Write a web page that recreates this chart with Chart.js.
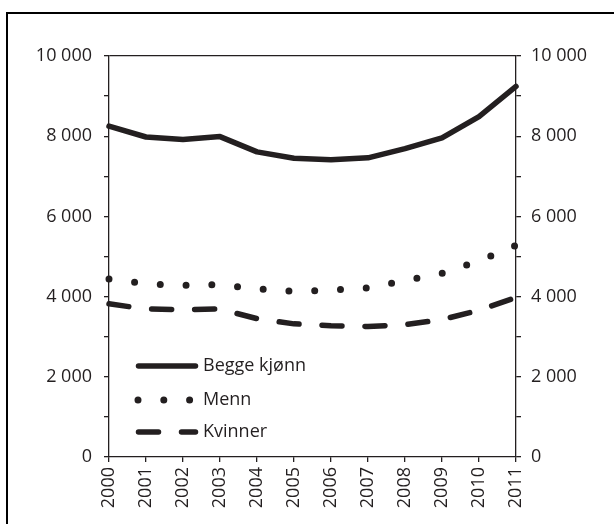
<!DOCTYPE html>
<html>
<head>
<meta charset="utf-8">
<script src="https://cdn.jsdelivr.net/npm/chart.js@4"></script>
<style>
    body { margin: 0; background: #fff; }
    #wrap { width: 614px; height: 524px; }
</style>
</head>
<body>
<div id="wrap"><canvas id="chart" width="614" height="524"></canvas></div>
<script>
// Data
var years = ['2000', '2001', '2002', '2003', '2004', '2005', '2006', '2007', '2008', '2009', '2010', '2011'];
var beggeKjonn = [8250, 7980, 7920, 7990, 7610, 7450, 7410, 7460, 7690, 7960, 8490, 9240];
var menn = [4440, 4320, 4280, 4300, 4190, 4135, 4160, 4220, 4400, 4580, 4890, 5280];
var kvinner = [3820, 3690, 3675, 3690, 3450, 3320, 3275, 3255, 3300, 3425, 3660, 3980];
var seriesNames = ['Begge kjønn', 'Menn', 'Kvinner'];
var yMin = 0, yMax = 10000, yStep = 1000, yLabelStep = 2000;

var ink = '#231f20';
var font = { family: '"Open Sans", "Noto Sans", sans-serif', size: 18 };

// Function to format axis numbers with space as thousands separator
function fmt(v) {
    if (v % yLabelStep !== 0) {
        return '';
    }
    return String(v).replace(/\B(?=(\d{3})+(?!\d))/g, ' ');
}

// Outer frame (only top and left edges are visible in the picture)
var framePlugin = {
    id: 'frame',
    beforeDraw: function (chart) {
        var ctx = chart.ctx;
        ctx.save();
        ctx.strokeStyle = '#000';
        ctx.lineWidth = 2;
        ctx.beginPath();
        ctx.moveTo(7, chart.height + 2);
        ctx.lineTo(7, 13);
        ctx.lineTo(chart.width + 2, 13);
        ctx.stroke();
        ctx.restore();
    }
};

// Legend drawn inside the plot, using each dataset's own line style
var legendPlugin = {
    id: 'innerLegend',
    afterDatasetsDraw: function (chart) {
        var ctx = chart.ctx;
        var rows = [366, 400, 432];
        ctx.save();
        chart.data.datasets.forEach(function (ds, i) {
            var y = rows[i];
            ctx.beginPath();
            ctx.strokeStyle = ds.borderColor;
            ctx.lineWidth = ds.borderWidth;
            ctx.lineCap = ds.borderCapStyle;
            ctx.setLineDash(ds.borderDash || []);
            if (i === 1) {
                ctx.moveTo(138, y);
                ctx.lineTo(190, y);
            } else {
                ctx.moveTo(138.5, y);
                ctx.lineTo(195.5, y);
            }
            ctx.stroke();
            ctx.setLineDash([]);
            ctx.fillStyle = ink;
            ctx.font = font.size + 'px ' + font.family;
            ctx.textBaseline = 'middle';
            ctx.fillText(ds.label, 203, y);
        });
        ctx.restore();
    }
};

function CreateDataSet(label, data, dash, width) {
    return {
        label: label,
        data: data,
        borderColor: ink,
        borderWidth: width,
        borderDash: dash,
        borderCapStyle: 'round',
        borderJoinStyle: 'round',
        pointRadius: 0,
        tension: 0,
        fill: false,
        yAxisID: 'y'
    };
}

new Chart(document.getElementById('chart'), {
    type: 'line',
    data: {
        labels: years,
        datasets: [
            CreateDataSet(seriesNames[0], beggeKjonn, [], 5.5),
            CreateDataSet(seriesNames[1], menn, [0, 25.8], 7),
            CreateDataSet(seriesNames[2], kvinner, [20, 23], 5.5)
        ]
    },
    options: {
        responsive: false,
        animation: false,
        clip: false,
        layout: { padding: { top: 56, left: 0, right: 0, bottom: 0 } },
        plugins: {
            legend: { display: false },
            tooltip: { enabled: false }
        },
        scales: {
            x: {
                afterFit: function (s) { s.height = 67; },
                grid: { drawOnChartArea: false, tickLength: 5, tickColor: ink, lineWidth: 1.3 },
                border: { color: ink, width: 1.3 },
                ticks: { color: ink, font: font, minRotation: 90, maxRotation: 90, padding: 5, autoSkip: false }
            },
            y: {
                position: 'left',
                min: yMin,
                max: yMax,
                afterFit: function (s) { s.width = 109; },
                grid: {
                    color: function (c) { return c.tick && c.tick.value === yMax ? ink : 'rgba(0,0,0,0)'; },
                    tickColor: ink,
                    tickLength: 5,
                    lineWidth: 1.3
                },
                border: { color: ink, width: 1.3 },
                ticks: { stepSize: yStep, color: ink, font: font, padding: 12, callback: fmt }
            },
            y2: {
                position: 'right',
                min: yMin,
                max: yMax,
                afterFit: function (s) { s.width = 98; },
                grid: { drawOnChartArea: false, tickColor: ink, tickLength: 5, lineWidth: 1.3 },
                border: { color: ink, width: 1.3 },
                ticks: { stepSize: yStep, color: ink, font: font, padding: 10, callback: fmt }
            }
        }
    },
    plugins: [framePlugin, legendPlugin]
});
</script>
</body>
</html>
